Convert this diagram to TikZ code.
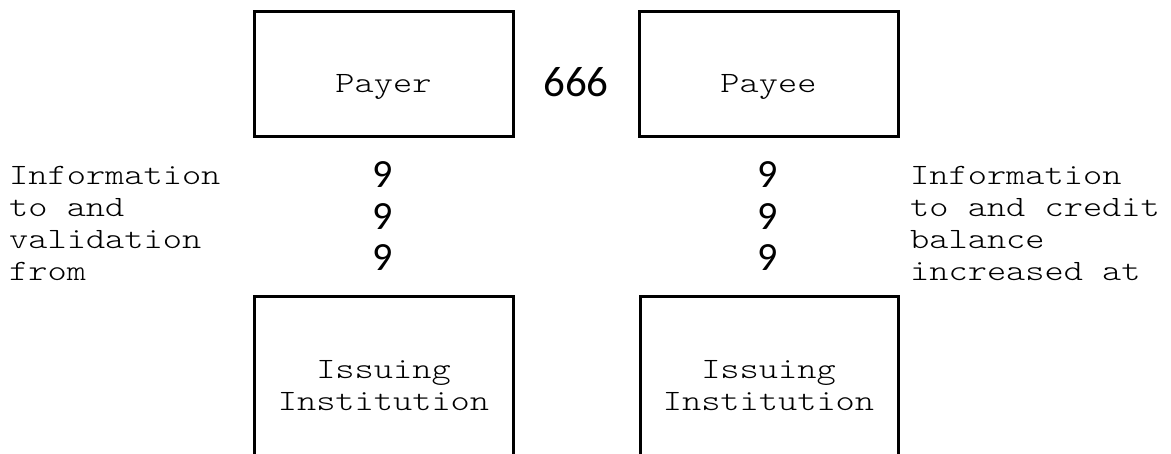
\documentclass[tikz,border=0pt]{standalone}
\usepackage{fontspec}
\setmonofont{lmmonolt10-regular.otf}[FakeStretch=1.24]
\newfontfamily\digitfont{Carlito}
\newcommand\monoset{\fontsize{29.5}{32}\selectfont\ttfamily}
\newcommand\msp{\hspace*{19.2pt}}
\begin{document}
\begin{tikzpicture}[x=1pt,y=-1pt,
  box/.style={draw,line width=3pt,inner sep=0pt,rectangle},
  mono/.style={font=\monoset,inner sep=0pt},
  bigdig/.style={font=\fontsize{43}{43}\selectfont\digitfont,inner sep=0pt,anchor=base},
  dig/.style={font=\fontsize{40}{40}\selectfont\digitfont,inner sep=0pt,anchor=base}]
\useasboundingbox (0,0) rectangle (1171,454);
\clip (0,0) rectangle (1171,454);
% boxes
\node[box,minimum width=259pt,minimum height=125pt] (payer) at (383.5,74.5) {};
\node[box,minimum width=259pt,minimum height=125pt] (payee) at (768.5,74.5) {};
\node[box,minimum width=259pt,minimum height=178pt] (issL) at (383.5,386) {};
\node[box,minimum width=258pt,minimum height=178pt] (issR) at (769,386) {};
% box texts
\node[mono,anchor=base] (payerT) at (383.5,93) {Payer};
\node[mono,anchor=base] (payeeT) at (768.5,93) {Payee};
\node[mono,anchor=base,text width=240pt,align=center] (issLT) at (383.5,379) {Issuing\\Institution};
\node[mono,anchor=base,text width=240pt,align=center] (issRT) at (768.5,379) {Issuing\\Institution};
% side texts
\node[mono,anchor=base west,text width=260pt,align=left] (leftT) at (9,185) {Information\\to\msp and\\validation\\from};
\node[mono,anchor=base west,text width=260pt,align=left] (rightT) at (910,185) {Information\\to\msp and\msp credit\\balance\\increased\msp at};
% digits
\node[bigdig] (top666) at (576,97) {666};
\node[dig] (l1) at (383,188) {9};
\node[dig] (l2) at (383,229.5) {9};
\node[dig] (l3) at (383,271) {9};
\node[dig] (r1) at (767.5,188) {9};
\node[dig] (r2) at (767.5,229.5) {9};
\node[dig] (r3) at (767.5,271) {9};
\end{tikzpicture}
\end{document}
